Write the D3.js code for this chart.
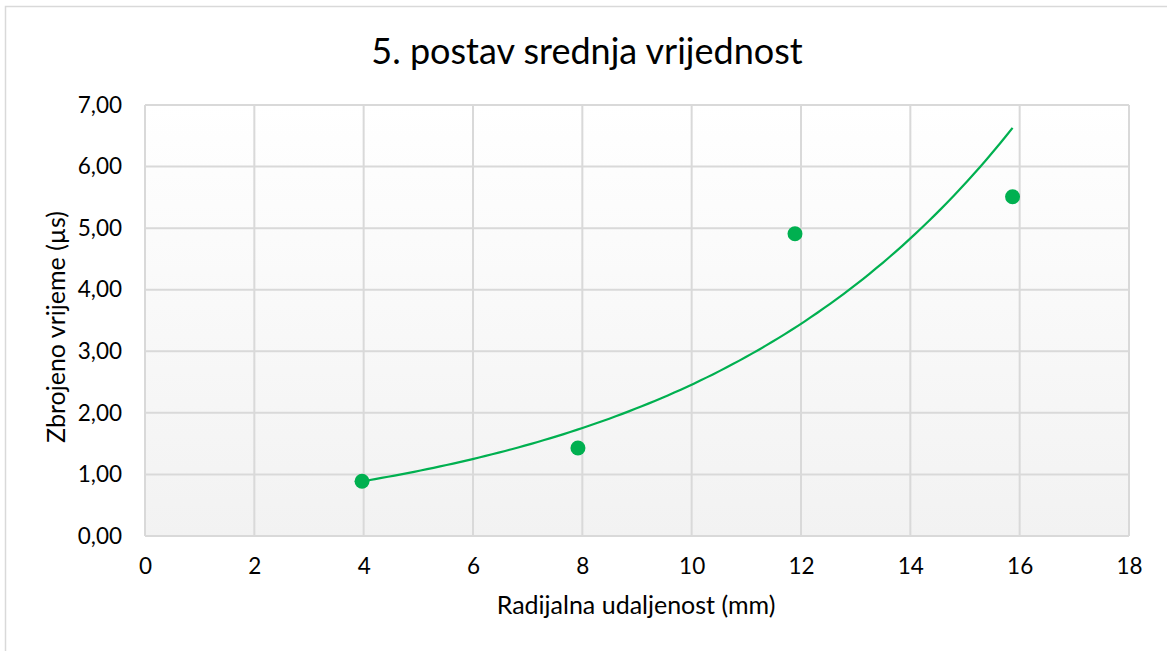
<!DOCTYPE html>
<html><head><meta charset="utf-8">
<script src="https://cdn.jsdelivr.net/npm/d3@7"></script>
<style>html,body{margin:0;padding:0;background:#fff;}svg{display:block;}</style>
</head><body>
<svg id="chart" width="1167" height="651"></svg>
<script>
const title = "5. postav srednja vrijednost";
const xTitle = "Radijalna udaljenost (mm)";
const yTitle = "Zbrojeno vrijeme (µs)";
const xValues = [3.97, 7.92, 11.89, 15.87];
const yValues = [0.89, 1.43, 4.91, 5.51];
const xTicks = [0, 2, 4, 6, 8, 10, 12, 14, 16, 18];
const yTicks = [0, 1, 2, 3, 4, 5, 6, 7];

const FONT = "Lato, 'Open Sans', sans-serif";
const svg = d3.select("#chart");
const L = 145, R = 1129, T = 105, B = 536;
const x = d3.scaleLinear().domain([0, 18]).range([L, R]);
const y = d3.scaleLinear().domain([0, 7]).range([B, T]);

// outer border
svg.append("rect").attr("x", 5.5).attr("y", 6.5).attr("width", 1200).attr("height", 700)
  .attr("fill", "#fff").attr("stroke", "#d9d9d9").attr("stroke-width", 1.5);

const defs = svg.append("defs");
const grad = defs.append("linearGradient").attr("id", "bg").attr("x1", 0).attr("y1", 0).attr("x2", 0).attr("y2", 1);
grad.append("stop").attr("offset", "0%").attr("stop-color", "#ffffff");
grad.append("stop").attr("offset", "100%").attr("stop-color", "#f2f2f2");
svg.append("rect").attr("x", L).attr("y", T).attr("width", R - L).attr("height", B - T).attr("fill", "url(#bg)");

// gridlines
const g = svg.append("g");
g.selectAll(".vg").data(xTicks).join("line")
  .attr("x1", d => x(d)).attr("x2", d => x(d)).attr("y1", T).attr("y2", B)
  .attr("stroke", "#d9d9d9").attr("stroke-width", 2);
g.selectAll(".hg").data(yTicks).join("line")
  .attr("y1", d => y(d)).attr("y2", d => y(d)).attr("x1", L).attr("x2", R)
  .attr("stroke", "#d9d9d9").attr("stroke-width", 2);

// axes labels via d3 axes
const fmt = d => d.toFixed(2).replace(".", ",");
const xAxis = svg.append("g").attr("transform", `translate(0,${B})`)
  .call(d3.axisBottom(x).tickValues(xTicks).tickSize(0).tickPadding(22));
const yAxis = svg.append("g").attr("transform", `translate(${L},0)`)
  .call(d3.axisLeft(y).tickValues(yTicks).tickFormat(fmt).tickSize(0).tickPadding(23));
[xAxis, yAxis].forEach(a => {
  a.select(".domain").remove();
  a.selectAll("text").attr("font-family", FONT).attr("font-size", 22.5).attr("fill", "#000");
});

// trendline: exponential least-squares fit
const n = xValues.length;
const lnY = yValues.map(Math.log);
const mx = d3.mean(xValues), my = d3.mean(lnY);
let sxy = 0, sxx = 0;
for (let i = 0; i < n; i++) { sxy += (xValues[i] - mx) * (lnY[i] - my); sxx += (xValues[i] - mx) ** 2; }
const b = sxy / sxx, a = Math.exp(my - b * mx);
const x0 = d3.min(xValues), x1 = d3.max(xValues);
const trend = d3.range(0, 101).map(i => { const xv = x0 + (x1 - x0) * i / 100; return [xv, a * Math.exp(b * xv)]; });
svg.append("path").datum(trend)
  .attr("d", d3.line().x(d => x(d[0])).y(d => y(d[1])))
  .attr("fill", "none").attr("stroke", "#00b050").attr("stroke-width", 2.2);

// points
svg.selectAll(".pt").data(xValues).join("circle")
  .attr("cx", d => x(d)).attr("cy", (d, i) => y(yValues[i])).attr("r", 7.5).attr("fill", "#00b050");

// titles
svg.append("text").attr("x", 587).attr("y", 64).attr("text-anchor", "middle")
  .attr("font-family", FONT).attr("font-size", 36).attr("fill", "#000").text(title);
svg.append("text").attr("x", 636).attr("y", 614).attr("text-anchor", "middle")
  .attr("font-family", FONT).attr("font-size", 25).attr("fill", "#000").text(xTitle);
svg.append("text").attr("transform", `translate(65,327) rotate(-90)`).attr("text-anchor", "middle")
  .attr("font-family", FONT).attr("font-size", 25).attr("fill", "#000").text(yTitle);
</script>
</body></html>
